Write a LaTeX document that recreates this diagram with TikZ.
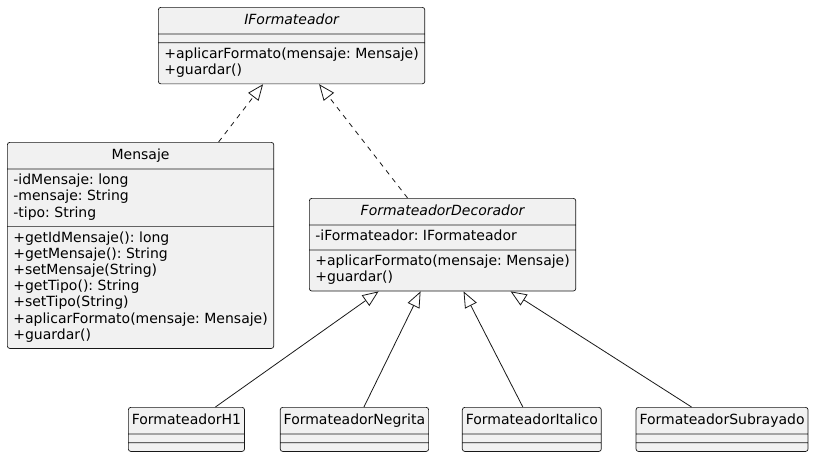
\documentclass[tikz,border=0pt]{standalone}
\usepackage{fontspec}
\setmainfont{DejaVu Sans}
\usetikzlibrary{positioning,shapes.multipart,arrows.meta}

\definecolor{umlfill}{HTML}{F1F1F1}
\definecolor{umlline}{HTML}{181818}

\tikzset{
  umlclass/.style={draw=umlline, fill=umlfill, line width=0.7pt,
    rounded corners=2.5pt,
    rectangle split, rectangle split parts=3,
    rectangle split part align={center,left,left},
    inner xsep=6pt, inner ysep=4pt, align=left,
    font=\fontsize{14}{16.2}\selectfont\frenchspacing},
  umlleaf/.style={umlclass, inner xsep=3.5pt},
  realizes/.style={-{Triangle[open,length=16pt,width=13pt]},
    dash pattern=on 5pt off 5pt, draw=umlline, line width=0.8pt},
  extends/.style={-{Triangle[open,length=16pt,width=13pt]},
    draw=umlline, line width=0.8pt}
}
\newcommand{\umltitle}[1]{\rule[-5pt]{0pt}{18pt}#1}
\newcommand{\nofields}{\hphantom{+}}
\newcommand{\noparts}{\nodepart{two}\nofields\nodepart{three}\nofields}

\begin{document}
\begin{tikzpicture}[x=1pt,y=-1pt]
  \useasboundingbox (0,0) rectangle (813,455);

  \node[umlclass, anchor=north west] (iformat) at (158,7)
    {\umltitle{\itshape IFormateador}
     \nodepart{two}\nofields
     \nodepart{three}\strut+aplicarFormato(mensaje: Mensaje)\\+guardar()\strut};

  \node[umlclass, anchor=north west] (mensaje) at (7,142)
    {\umltitle{Mensaje}
     \nodepart{two}\strut-idMensaje: long\\-mensaje: String\\-tipo: String\strut
     \nodepart{three}\strut+getIdMensaje(): long\\+getMensaje(): String\\
       +setMensaje(String)\\+getTipo(): String\\+setTipo(String)\\
       +aplicarFormato(mensaje: Mensaje)\\+guardar()\strut};

  \node[umlclass, anchor=north west] (decorador) at (309,198)
    {\umltitle{\itshape FormateadorDecorador}
     \nodepart{two}\strut-iFormateador: IFormateador\strut
     \nodepart{three}\strut+aplicarFormato(mensaje: Mensaje)\\+guardar()\strut};

  % concrete decorators
  \node[umlleaf, anchor=north west] (h1) at (128,407)
    {\umltitle{FormateadorH1}\noparts};
  \node[umlleaf, right=35pt of h1] (negrita)
    {\umltitle{FormateadorNegrita}\noparts};
  \node[umlleaf, right=33pt of negrita] (italico)
    {\umltitle{FormateadorItalico}\noparts};
  \node[umlleaf, right=34pt of italico] (subrayado)
    {\umltitle{FormateadorSubrayado}\noparts};

  \draw[realizes] ([xshift=78pt]mensaje.north) -- ([xshift=-28.5pt]iformat.south);
  \draw[realizes] ([xshift=-35pt]decorador.north) -- ([xshift=27.5pt]iformat.south);

  \draw[extends] ([xshift=29pt]h1.north) -- ([xshift=-64pt]decorador.south);
  \draw[extends] ([xshift=9.5pt]negrita.north) -- ([xshift=-22pt]decorador.south);
  \draw[extends] ([xshift=-9pt]italico.north) -- ([xshift=21pt]decorador.south);
  \draw[extends] ([xshift=-30.5pt]subrayado.north) -- ([xshift=68pt]decorador.south);
\end{tikzpicture}
\end{document}
